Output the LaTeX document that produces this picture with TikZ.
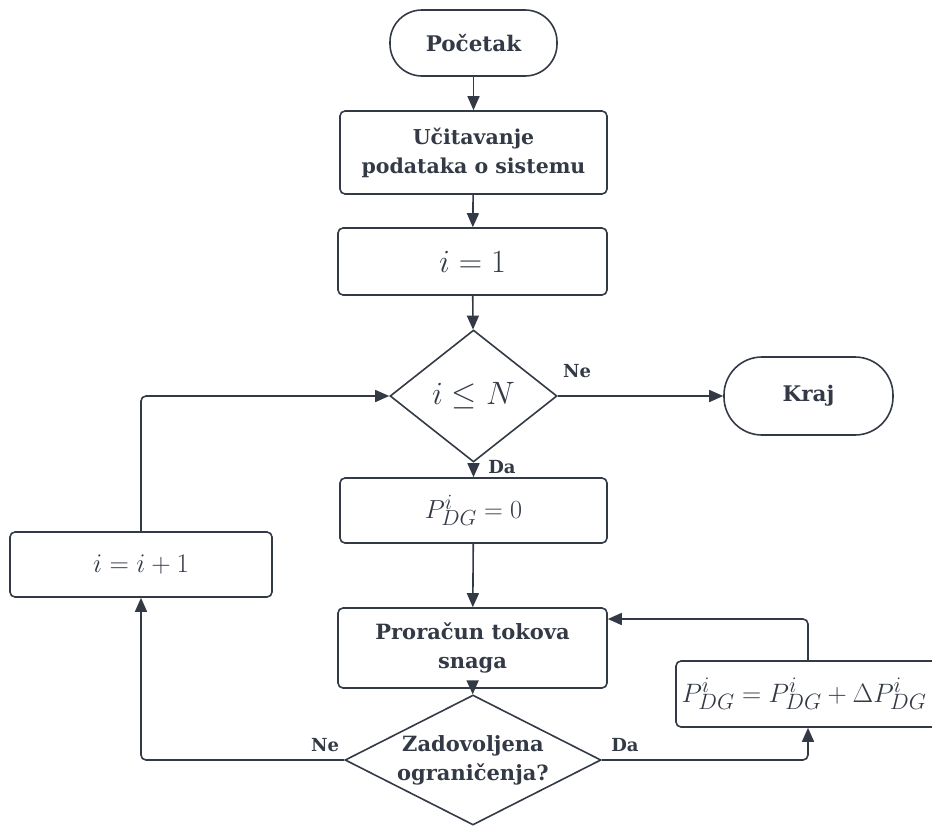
\documentclass[tikz,border=0pt]{standalone}
\usepackage{graphicx}
\usepackage{fontspec}
\setmainfont{DejaVu Serif}
\usetikzlibrary{shapes.geometric,arrows.meta}
\definecolor{ln}{HTML}{333A45}
\newcommand{\bigmath}[2]{\scalebox{#1}{\fontsize{24.88}{26}\selectfont$#2$}}
\tikzset{
  x=1pt,y=-1pt,
  base/.style={draw=ln,line width=1.6pt,text=ln,align=center,inner sep=2pt},
  term/.style={base,rectangle,rounded corners=32pt,font=\fontsize{21.5}{24}\selectfont\bfseries},
  proc/.style={base,rectangle,rounded corners=5pt,font=\fontsize{21}{29}\selectfont\bfseries},
  decis/.style={base,diamond,inner sep=0pt,font=\fontsize{21}{29}\selectfont\bfseries},
  conn/.style={draw=ln,line width=1.6pt,rounded corners=5pt,-{Triangle[length=14pt,width=12pt]}},
  lbl/.style={text=ln,font=\fontsize{18}{20}\selectfont\bfseries,inner sep=0pt}
}
\begin{document}
\begin{tikzpicture}
\useasboundingbox (0,0) rectangle (932,825);
\node[term,minimum width=167pt,minimum height=66pt] (start) at (473.5,43) {Početak};
\node[proc,font=\fontsize{20.5}{29}\selectfont\bfseries,minimum width=267pt,minimum height=83pt] (load) at (473.5,152.5) {Učitavanje\\podataka o sistemu};
\node[proc,minimum width=269pt,minimum height=67pt] (init) at (472.5,261.5) {\bigmath{1.3}{i=1}};
\node[decis,minimum width=167pt,minimum height=132pt] (dec1) at (473.5,396) {\bigmath{1.3}{i\leq N}};
\node[term,rounded corners=38pt,minimum width=169pt,minimum height=78pt] (kraj) at (808.5,396) {Kraj};
\node[proc,minimum width=267pt,minimum height=65pt] (pzero) at (473.5,510.5) {\bigmath{1.05}{P^{i}_{DG}=0}};
\node[proc,minimum width=262pt,minimum height=65pt] (inc) at (141,564.5) {\bigmath{1.08}{i=i+1}};
\node[proc,minimum width=269pt,minimum height=80pt] (calc) at (472.5,648) {Proračun tokova\\snaga};
\node[decis,aspect=2,minimum width=256pt,minimum height=130pt] (dec2) at (473,760) {Zadovoljena\\ograničenja?};
\node[proc,minimum width=264pt,minimum height=66pt] (upd) at (808,694) {\bigmath{1.07}{P^{i}_{DG}=P^{i}_{DG}+\Delta P^{i}_{DG}}\hspace{8pt}};
\draw[conn] (start) -- (load);
\draw[conn] (load) -- (init);
\draw[conn] (init) -- (dec1);
\draw[conn] (dec1) -- (pzero);
\draw[conn] (pzero) -- (calc);
\draw[conn] (calc) -- (dec2);
\draw[conn] (dec1.east) -- (kraj.west);
\draw[conn] (dec2.west) -| (inc.south);
\draw[conn] (inc.north) |- (dec1.west);
\draw[conn] (dec2.east) -| (upd.south);
\draw[conn] (upd.north) |- ([yshift=29pt]calc.east);
\node[lbl] (ne1) at (577,371) {Ne};
\node[lbl] (da1) at (502,467) {Da};
\node[lbl] (ne2) at (325,745) {Ne};
\node[lbl] (da2) at (625,745) {Da};
\end{tikzpicture}
\end{document}
